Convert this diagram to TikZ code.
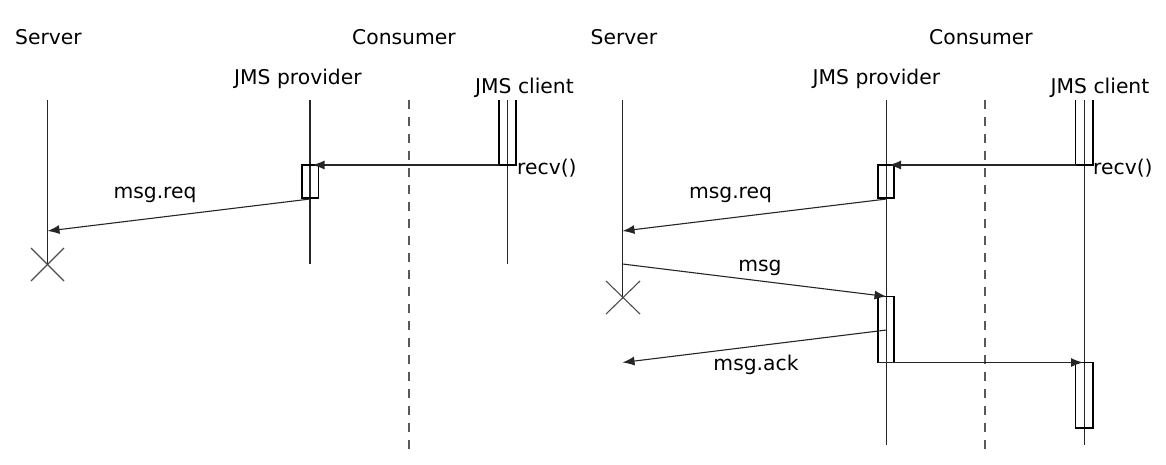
\documentclass[tikz,border=0pt]{standalone}
\usepackage{fontspec}
\setmainfont{DejaVu Sans}
\usetikzlibrary{arrows.meta}
\begin{document}
\begin{tikzpicture}[x=1pt,y=-1pt,
  lbl/.style={inner sep=0pt, anchor=base west, font=\fontsize{20.3}{24}\selectfont},
  clbl/.style={inner sep=0pt, anchor=base, font=\fontsize{20.3}{24}\selectfont},
  life/.style={line width=1.1pt, black!85},
  sepline/.style={line width=1.1pt, black!65, dash pattern=on 9pt off 8pt},
  actbox/.style={draw=black, line width=1.3pt},
  msgarrow/.style={line width=1.1pt, black!85, -{Latex[length=12pt,width=9pt]}},
  crossline/.style={line width=1.1pt, black!70}]
\useasboundingbox (0,0) rectangle (1166,464);

% ---------------- left diagram ----------------
\node[lbl] (srvA) at (15,44) {Server};
\node[lbl] (conA) at (352,44) {Consumer};
\node[lbl] (provA) at (234,84) {JMS provider};
\node[lbl] (cliA) at (475,93) {JMS client};

\coordinate (sAt) at (47.5,100);  \coordinate (sAb) at (47.5,264);
\coordinate (pAt) at (310,100);   \coordinate (pAb) at (310,264);
\coordinate (dAt) at (409,100);   \coordinate (dAb) at (409,455);
\coordinate (cAt) at (507.5,100); \coordinate (cAb) at (507.5,264);

\draw[life] (sAt) -- (sAb);
\draw[life] (pAt) -- (pAb);
\draw[sepline] (dAt) -- (dAb);
\draw[life] (cAt) -- (cAb);

% client activation (open at top)
\draw[actbox] (499,100) -- (499,165) -- (516,165) -- (516,100);
% provider activation
\draw[actbox] (302,165) rectangle (318.5,198);

\coordinate (recvAs) at (499,165); \coordinate (recvAe) at (312.5,165);
\draw[msgarrow] (recvAs) -- (recvAe);
\node[lbl] (recvA) at (517,174) {recv()};

\coordinate (reqAs) at (310,199); \coordinate (reqAe) at (47.5,231);
\draw[msgarrow] (reqAs) -- (reqAe);
\node[clbl] (reqA) at (155,198.5) {msg.req};

\draw[crossline] (31,248) -- (64,281);
\draw[crossline] (31,281) -- (64,248);

% ---------------- right diagram ----------------
\node[lbl] (srvB) at (590.5,44) {Server};
\node[lbl] (conB) at (929,44) {Consumer};
\node[lbl] (provB) at (812.5,84) {JMS provider};
\node[lbl] (cliB) at (1050.5,93) {JMS client};

\coordinate (sBt) at (622.5,100);  \coordinate (sBb) at (622.5,297);
\coordinate (pBt) at (886.5,100);  \coordinate (pBb) at (886.5,445);
\coordinate (dBt) at (985,100);    \coordinate (dBb) at (985,455);
\coordinate (cBt) at (1084.5,100); \coordinate (cBb) at (1084.5,445);

\draw[life] (sBt) -- (sBb);
\draw[life] (pBt) -- (pBb);
\draw[sepline] (dBt) -- (dBb);
\draw[life] (cBt) -- (cBb);

\draw[actbox] (1075.5,100) -- (1075.5,165) -- (1093,165) -- (1093,100);
\draw[actbox] (878,165) rectangle (894,198);
\draw[actbox] (878,296.5) rectangle (894,362.5);
\draw[actbox] (1075.5,362.5) rectangle (1093,428);

\coordinate (recvBs) at (1075.5,165); \coordinate (recvBe) at (889,165);
\draw[msgarrow] (recvBs) -- (recvBe);
\node[lbl] (recvB) at (1093,174) {recv()};

\coordinate (reqBs) at (886.5,199); \coordinate (reqBe) at (622.5,231);
\draw[msgarrow] (reqBs) -- (reqBe);
\node[clbl] (reqB) at (730.5,198.5) {msg.req};

\coordinate (msgBs) at (622.5,264); \coordinate (msgBe) at (886.5,296.5);
\draw[msgarrow] (msgBs) -- (msgBe);
\node[clbl] (msgB) at (760,271) {msg};

\coordinate (ackBs) at (886.5,330); \coordinate (ackBe) at (622.5,362.5);
\draw[msgarrow] (ackBs) -- (ackBe);
\node[clbl] (ackB) at (756,370) {msg.ack};

\coordinate (fwdBs) at (878,362.5); \coordinate (fwdBe) at (1083,362.5);
\draw[msgarrow] (fwdBs) -- (fwdBe);

\draw[crossline] (606,281) -- (640,314);
\draw[crossline] (606,314) -- (640,281);
\end{tikzpicture}
\end{document}
